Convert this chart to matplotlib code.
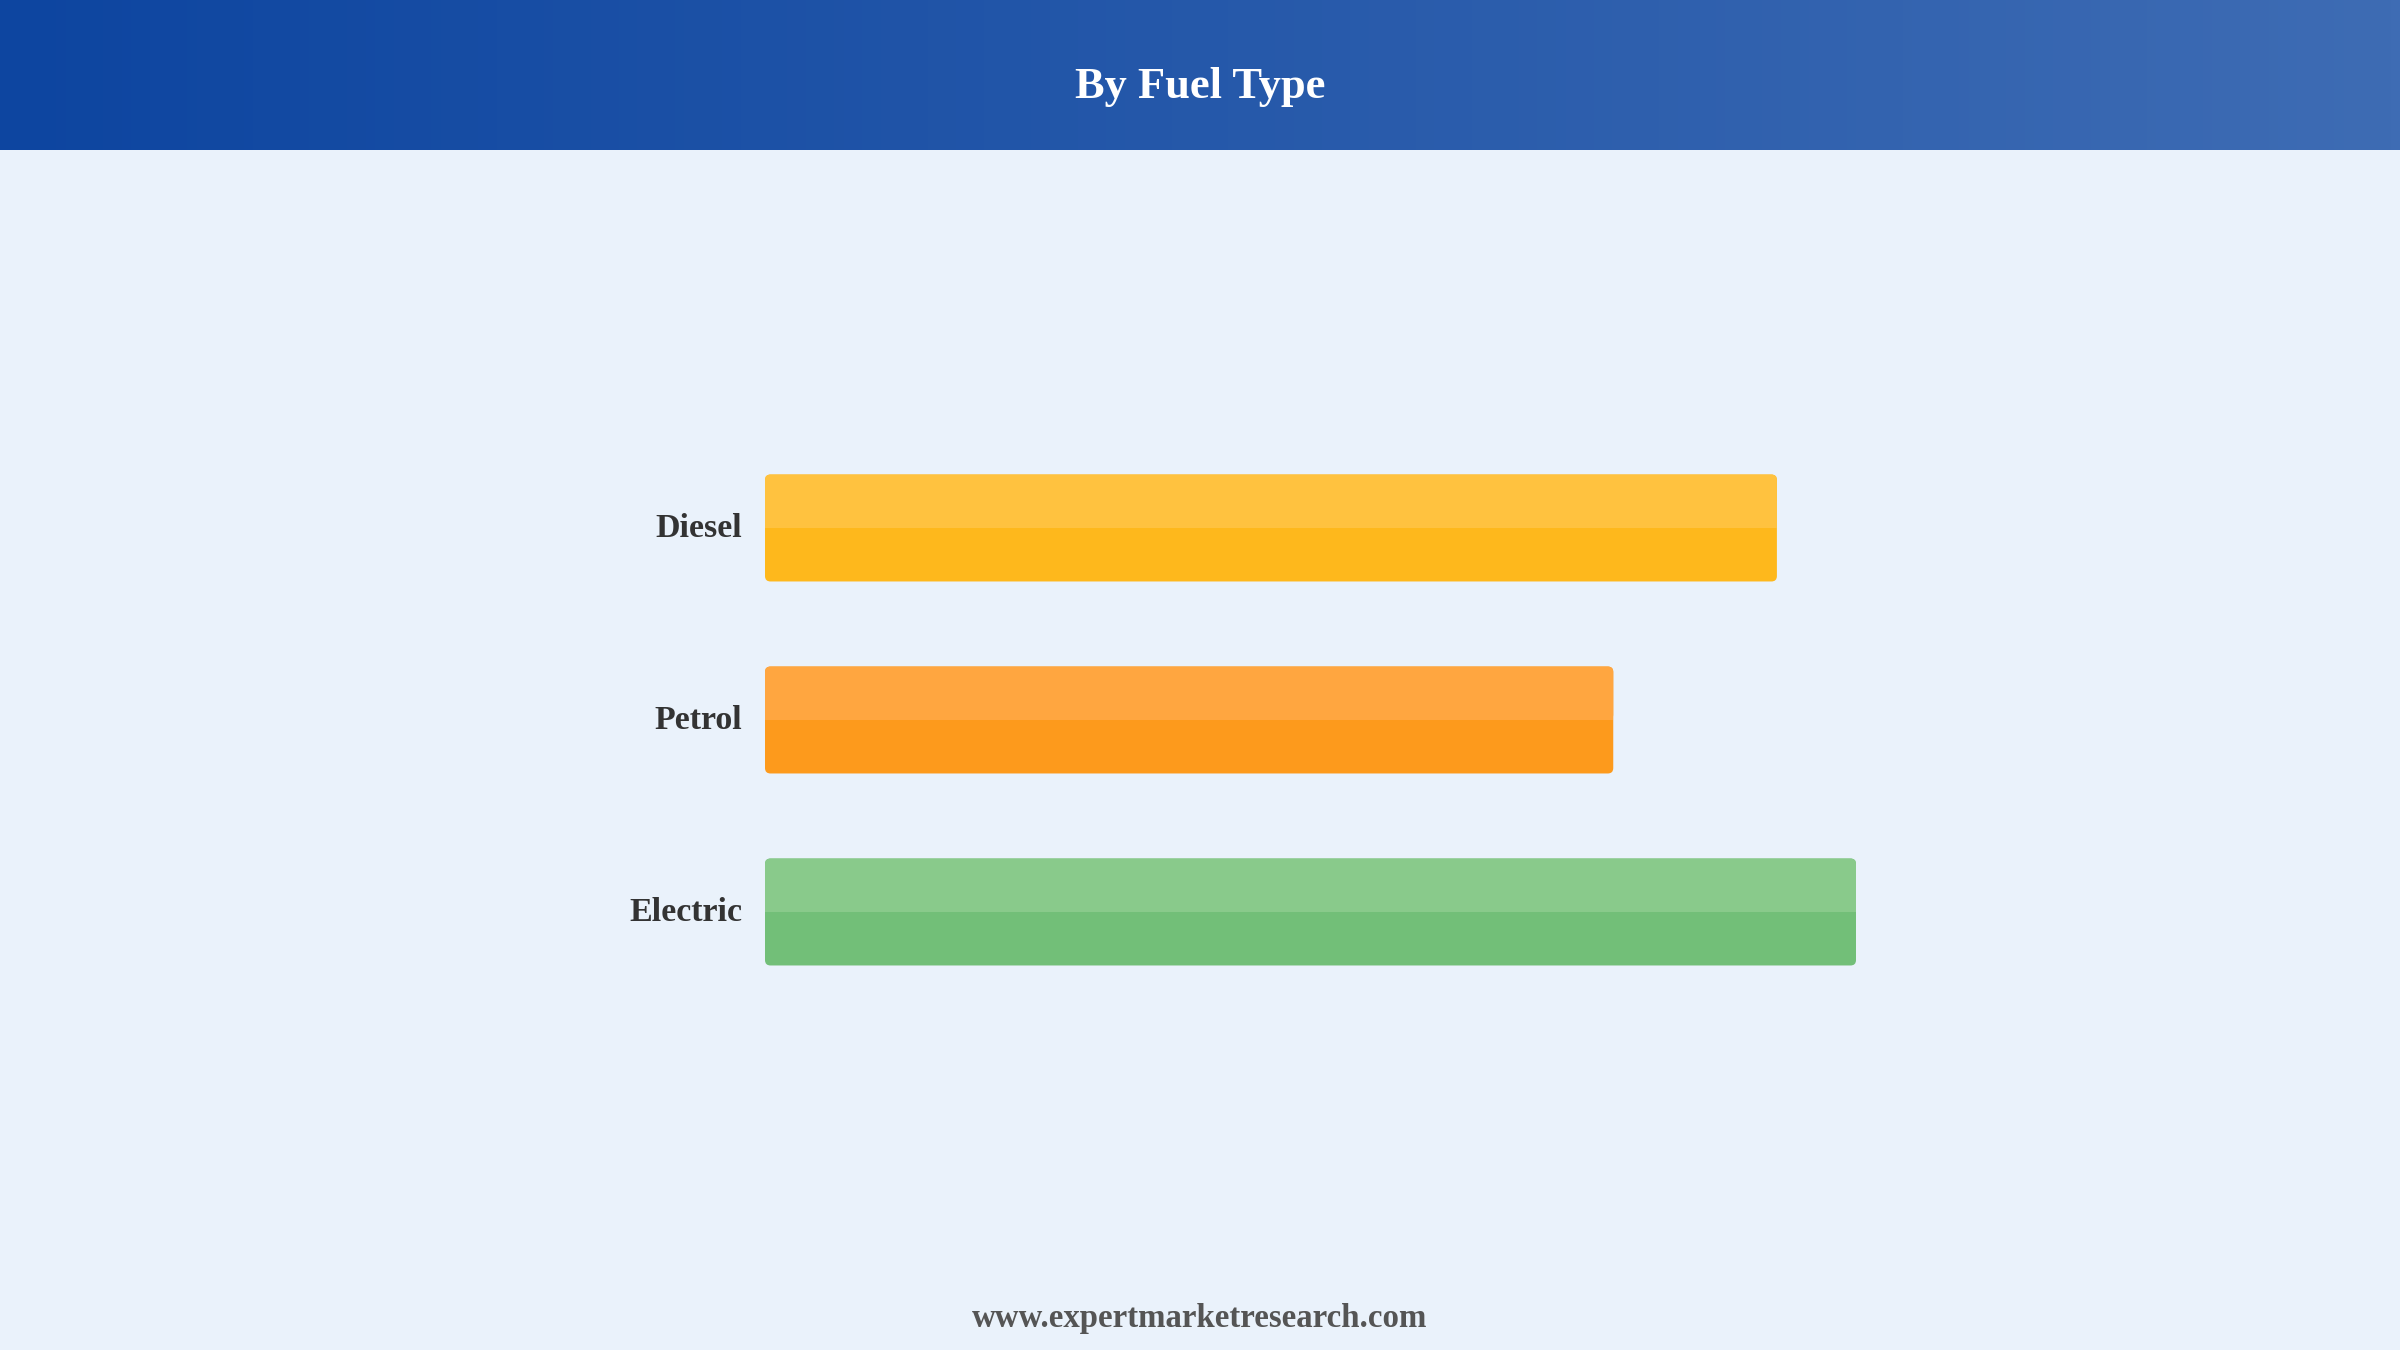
import numpy as np
import matplotlib.pyplot as plt
from matplotlib.patches import FancyBboxPatch

# Data
categories = ['Diesel', 'Petrol', 'Electric']
values = [37.1, 31.1, 40.0]
light_colors = ['#FFC23F', '#FFA640', '#89CA8B']
dark_colors = ['#FEB81C', '#FD9A1C', '#72BF78']

bg = '#EAF2FB'
W, H = 2400, 1350

fig = plt.figure(figsize=(24, 13.5), dpi=100, facecolor=bg)

# Header band with horizontal gradient
hdr = fig.add_axes([0, 1 - 150 / H, 1, 150 / H])
grad = np.linspace(0, 1, 256).reshape(1, -1)
left = np.array([13, 69, 160]) / 255
right = np.array([62, 108, 180]) / 255
img = left[None, None, :] * (1 - grad[..., None]) + right[None, None, :] * grad[..., None]
hdr.imshow(img, aspect='auto', extent=[0, 1, 0, 1])
hdr.set_axis_off()
hdr.text(0.5, 0.42, 'By Fuel Type', ha='center', va='center', color='white',
         fontsize=32, fontweight='bold', family='Liberation Serif')

# Bar area
xmax = 50
px_per_unit = 1091 / 40.0
ax_left = 765
ax_w = xmax * px_per_unit
ax_top = 432
ax_h = 576
ax = fig.add_axes([ax_left / W, 1 - (ax_top + ax_h) / H, ax_w / W, ax_h / H])
ax.set_facecolor(bg)
ax.set_xlim(0, xmax)
ax.set_ylim(len(categories) - 0.5, -0.5)
ax.set_axis_off()

y = np.arange(len(categories))
bar_h = 0.557
bars = ax.barh(y, values, height=bar_h, color=dark_colors)

aspect = px_per_unit / (ax_h / len(categories))
for bar, lc, dc in zip(bars, light_colors, dark_colors):
    x0, y0 = bar.get_x(), bar.get_y()
    w, h = bar.get_width(), bar.get_height()
    bar.remove()
    ax.add_patch(FancyBboxPatch((x0, y0), w, h,
                                boxstyle='round,pad=0,rounding_size=0.2',
                                mutation_aspect=aspect, facecolor=dc,
                                edgecolor='none'))
    # lighter upper half
    ax.add_patch(FancyBboxPatch((x0, y0), w, h / 2,
                                boxstyle='round,pad=0,rounding_size=0.2',
                                mutation_aspect=aspect, facecolor=lc,
                                edgecolor='none'))
    ax.add_patch(plt.Rectangle((x0, y0 + h / 4), w, h / 4, facecolor=lc,
                               edgecolor='none'))

for yi, cat in zip(y, categories):
    ax.text(-23 / px_per_unit, yi, cat, ha='right', va='center',
            fontsize=24.5, fontweight='bold', color='#333333',
            family='Liberation Serif')

fig.text(0.5, 1 - 1318 / H, 'www.expertmarketresearch.com', ha='center',
         va='center', fontsize=23.7, fontweight='bold', color='#555555',
         family='Liberation Serif')

fig.savefig('out.png', dpi=100, facecolor=bg)
